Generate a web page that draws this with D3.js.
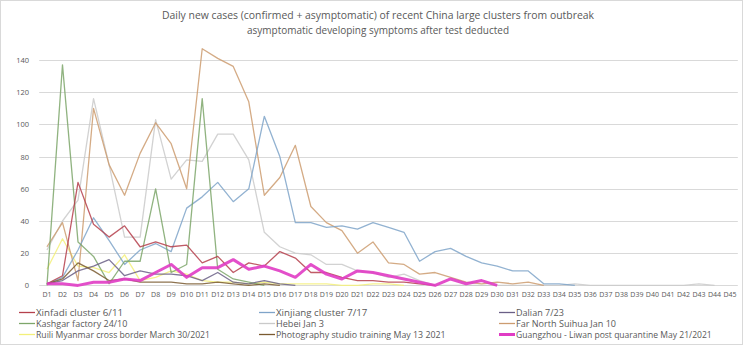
<!DOCTYPE html>
<html><head><meta charset="utf-8">
<script src="https://cdn.jsdelivr.net/npm/d3@7"></script>
<style>body{margin:0;background:#fff}svg{display:block}</style>
</head><body>
<svg id="c" width="745" height="346"></svg>
<script>
const days = d3.range(1, 46).map(i => "D" + i);
const yTicks = [0, 20, 40, 60, 80, 100, 120, 140];
const titleLines = ["Daily new cases (confirmed + asymptomatic) of recent China large clusters from outbreak",
  "asymptomatic developing symptoms after test deducted"];

const seriesNames = ["Xinfadi cluster 6/11", "Xinjiang cluster 7/17", "Dalian 7/23",
  "Kashgar factory 24/10", "Hebei Jan 3", "Far North Suihua Jan 10",
  "Ruili Myanmar cross border March 30/2021", "Photography studio training May 13 2021",
  "Guangzhou - Liwan post quarantine May 21/2021"];

const xinfadi = [1,6,64,38,30,37,24,27,24,25,14,18,8,14,12,21,17,8,8,5,3,3,2,2,1,0];
const xinjiang = [1,5,22,42,28,13,22,26,21,48,55,64,52,60,105,80,39,39,36,37,35,39,36,33,15,21,23,18,14,12,9,9,1,1,0];
const dalian = [1,3,9,12,16,6,9,7,7,6,3,8,2,1,3,1,0];
const kashgar = [0,137,27,18,1,15,15,60,8,13,116,10,4,2,0];
const hebei = [22,40,53,116,75,30,30,103,66,78,77,94,94,78,33,24,20,19,13,13,9,8,5,7,3,0,0,0,0,0,0,0,0,0,1,0,0,0,0,0,0,0,1,0];
const farNorth = [24,39,3,110,75,56,82,101,88,60,147,141,136,114,56,67,87,49,39,34,20,27,14,13,7,8,5,2,1,2,1,2,0];
const ruili = [10,29,12,11,8,19,3,5,9,7,3,2,2,1,2,1,1,1,1,0,0,1,1,0];
const photo = [1,4,14,9,3,4,2,2,2,1,1,2,1,0,1,0];
const guangzhou = [1,1,0,2,2,4,3,8,13,5,11,11,16,10,12,9,5,13,7,4,9,8,6,4,2,0,4,1,3,0];

const seriesData = [xinfadi, xinjiang, dalian, kashgar, hebei, farNorth, ruili, photo, guangzhou];
const colors = ["#B5404C", "#7FA4C9", "#6A5F86", "#7DA66A", "#CACACA", "#CC9C70", "#F3F07A", "#7A5A30", "#E03CC4"];
const widths = [1.3, 1.3, 1.3, 1.3, 1.3, 1.3, 1.3, 1.3, 3];

const svg = d3.select("#c");
const font = "'Open Sans', 'Liberation Sans', sans-serif";
const txt = "#595959";

svg.append("rect").attr("x", 0.5).attr("y", 0.5).attr("width", 742).attr("height", 344)
  .attr("fill", "#fff").attr("stroke", "#D9D9D9");

const x = d3.scaleBand().domain(days).range([39.2, 737.8]);
const y = d3.scaleLinear().domain([0, 160]).range([285.4, 27.8]);

// title
const tl = svg.append("g").attr("font-family", font).attr("fill", txt).attr("font-size", 10.5);
tl.append("text").attr("x", 378).attr("y", 19).attr("text-anchor", "middle")
  .attr("textLength", 432).attr("lengthAdjust", "spacingAndGlyphs").text(titleLines[0]);
tl.append("text").attr("x", 378).attr("y", 34).attr("text-anchor", "middle")
  .attr("textLength", 262).attr("lengthAdjust", "spacingAndGlyphs").text(titleLines[1]);

// gridlines
svg.append("g").selectAll("line").data(yTicks).join("line")
  .attr("x1", 39.2).attr("x2", 737.8)
  .attr("y1", d => Math.round(y(d)) + 0.5).attr("y2", d => Math.round(y(d)) + 0.5)
  .attr("stroke", "#D9D9D9").attr("stroke-width", 1);

// y axis
const ya = svg.append("g").attr("transform", "translate(29,0)")
  .call(d3.axisLeft(y).tickValues(yTicks).tickSize(0).tickPadding(0));
ya.select(".domain").remove();
ya.selectAll("text").attr("font-family", font).attr("font-size", 7.5).attr("fill", txt);

// x axis
const xa = svg.append("g").attr("transform", "translate(0,292)")
  .call(d3.axisBottom(x).tickSize(0).tickPadding(0));
xa.select(".domain").remove();
xa.selectAll("text").attr("font-family", font).attr("font-size", 7).attr("fill", txt);

// lines
const line = d3.line().x((d, i) => x(days[i]) + x.bandwidth() / 2).y(d => y(d));
const order = [4, 6, 5, 1, 3, 0, 2, 7, 8];
svg.append("g").selectAll("path").data(order).join("path")
  .attr("d", k => line(seriesData[k]))
  .attr("fill", "none")
  .attr("stroke", k => colors[k])
  .attr("stroke-width", k => widths[k])
  .attr("stroke-opacity", k => k === 8 ? 0.9 : 0.85)
  .attr("stroke-linejoin", "round");

// legend
const colX = [19, 259, 499];
const rowY = [312.5, 323.5, 334.5];
const lg = svg.append("g").attr("font-family", font).attr("font-size", 8.4).attr("fill", txt);
seriesNames.forEach((n, i) => {
  const cx = colX[i % 3], cy = rowY[Math.floor(i / 3)];
  lg.append("line").attr("x1", cx).attr("x2", cx + 16).attr("y1", cy).attr("y2", cy)
    .attr("stroke", colors[i]).attr("stroke-width", widths[i]);
  lg.append("text").attr("x", cx + 17).attr("y", cy + 3)
    .attr("textLength", n.length * 4.35).attr("lengthAdjust", "spacingAndGlyphs").text(n);
});
</script>
</body></html>
